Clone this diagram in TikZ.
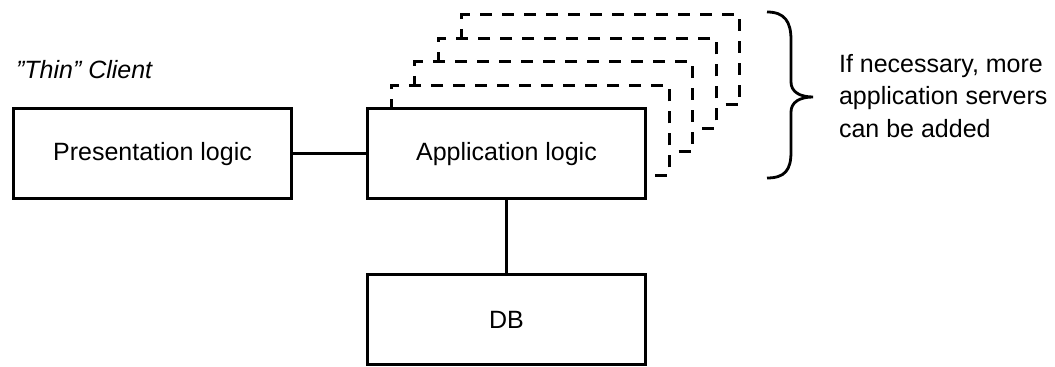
\documentclass[tikz,border=0pt]{standalone}
\usepackage{fontspec}
\setmainfont{Liberation Sans}
\usepackage{tikz}

\tikzset{
  tier/.style={draw, line width=1.5pt, minimum width=139pt, minimum height=45pt,
    inner sep=0pt, fill=white, font=\fontsize{12.5}{16.25}\selectfont},
  spare/.style={tier, line width=1.5pt, dash pattern=on 6pt off 5pt}
}

\begin{document}
\begin{tikzpicture}[x=0.5pt,y=-0.5pt]
      \useasboundingbox (0,0) rectangle (1055,367);
      \foreach \k in {4,3,2,1}
        \node[spare] (srv\k) at ({506.5+23.5*\k},{154-23.5*\k}) {};
      \node[tier] (pres) at (152.5,154) {Presentation logic};
      \node[tier] (app) at (506.5,154) {Application logic};
      \node[tier] (db) at (506.5,319.5) {DB};
      \draw[line width=1.5pt] (pres) -- (app);
      \draw[line width=1.5pt] (app) -- (db);
      \node[anchor=west, font=\fontsize{12.5}{16.25}\selectfont\itshape] (thin) at (9,70) {”Thin” Client};
      % brace
      \draw[line width=1.4pt] (767,12) .. controls (785,12) and (791,22) .. (791,40) -- (791,82)
        .. controls (791,92) and (800,97) .. (813,97)
        .. controls (800,97) and (791,102) .. (791,112) -- (791,152)
        .. controls (791,170) and (785,178) .. (767,178);
      \node[anchor=west, align=left, font=\fontsize{12.5}{16.25}\selectfont] (note) at (832,96)
        {If necessary, more\\application servers\\can be added};
    \end{tikzpicture}
\end{document}
